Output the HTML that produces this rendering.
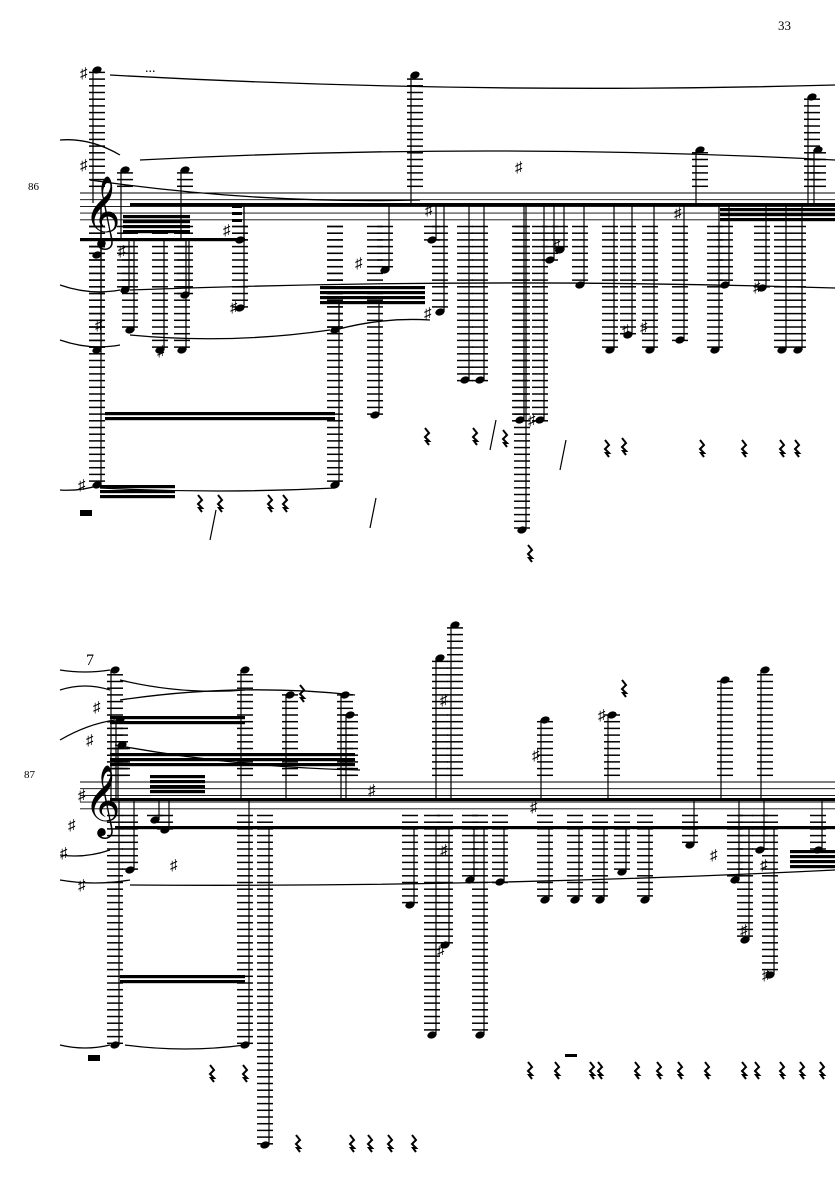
<!DOCTYPE html>
<html><head><meta charset="utf-8"><style>
html,body{margin:0;padding:0;background:#fff;}
svg{display:block}
text{font-family:"Liberation Serif",serif;}
</style></head><body>
<svg id="s" width="835" height="1181" viewBox="0 0 835 1181" xmlns="http://www.w3.org/2000/svg">
<text x="778" y="30" font-size="13">33</text>
<text x="28" y="190" font-size="11">86</text>
<text x="24" y="778" font-size="11">87</text>
<text x="84" y="232" font-size="62" style="font-family:'DejaVu Sans',serif">&#x1D11E;</text>
<text x="84" y="821" font-size="62" style="font-family:'DejaVu Sans',serif">&#x1D11E;</text>
<text x="86" y="665" font-size="16">7</text>
<text x="145" y="72" font-size="14">...</text>
</svg>
<script>
const s=document.getElementById('s');const NS='http://www.w3.org/2000/svg';
function el(t,a){const e=document.createElementNS(NS,t);for(const k in a)e.setAttribute(k,a[k]);s.appendChild(e);return e;}
function line(x1,y1,x2,y2,w){el('line',{x1,y1,x2,y2,stroke:'#000','stroke-width':w||1});}
const SP=6.7;
function staff(y0){for(let i=0;i<5;i++)line(80,y0+i*SP,835,y0+i*SP,0.9);}
const S1=193,S2=782;
staff(S1);staff(S2);
function lad(x,ny,st,stemTo){
 const top=st, bot=st+4*SP;
 if(ny<top){for(let y=top-SP;y>=ny-1;y-=SP)line(x-8,y,x+8,y,1.5);}
 if(ny>bot){for(let y=bot+SP;y<=ny+1;y+=SP)line(x-8,y,x+8,y,1.5);}
 el('ellipse',{cx:x,cy:ny,rx:4.8,ry:3.4,transform:`rotate(-20 ${x} ${ny})`});
 const sx=ny<top+2*SP? x-4 : x+4;
 line(sx,ny,sx,stemTo,1.2);
}
function beam(x1,x2,y,n){for(let i=0;i<(n||1);i++)el('rect',{x:x1,y:y+i*5,width:x2-x1,height:3.2});}
function slur(x1,y1,x2,y2,h){el('path',{d:`M${x1} ${y1} Q${(x1+x2)/2} ${(y1+y2)/2+h} ${x2} ${y2}`,fill:'none',stroke:'#000','stroke-width':1.3});}
function rest(x,y){el('path',{d:`M${x} ${y} l4 5 l-4 4 l4 4 l-3 0 l3 4`,fill:'none',stroke:'#000','stroke-width':2});}
function sharp(x,y){el('text',{x:x,y:y,'font-size':15}).textContent='♯';}

const c1=[[97,70,203],[97,255,203],[97,350,203],[97,485,203],[125,170,239],[125,290,239],[130,330,239],[185,170,239],[185,295,239],[182,350,239],[160,350,239],
[240,308,203],[240,240,203],[335,330,300],[335,485,300],[375,415,300],[385,270,203],[415,75,203],[432,240,203],[440,312,203],[465,380,203],[480,380,203],
[520,420,203],[522,530,203],[540,420,203],[550,260,203],[560,250,203],[580,285,203],[610,350,203],[628,335,203],[650,350,203],[680,340,203],[700,150,203],
[715,350,203],[725,285,203],[762,288,203],[782,350,203],[798,350,203],[812,97,203],[818,150,203]];
c1.forEach(c=>lad(c[0],c[1],S1,c[2]));
beam(130,835,203,1);beam(80,245,238,1);beam(123,190,215,4);
beam(320,425,286,4);beam(105,335,412,2);beam(100,175,485,3);
beam(720,835,203,4);
[[232,205],[232,212],[232,219]].forEach(p=>el('rect',{x:p[0],y:p[1],width:10,height:3}));
slur(110,75,835,85,15);slur(140,160,835,160,-18);slur(60,140,120,155,-10);
slur(90,180,420,200,14);slur(60,285,120,290,8);slur(130,290,835,288,-12);
slur(60,340,120,345,8);slur(130,335,330,330,12);slur(335,330,430,320,-8);
slur(60,490,100,485,4);slur(100,488,335,488,6);
sharp(80,78);sharp(80,170);sharp(118,256);sharp(95,330);sharp(223,235);sharp(230,312);sharp(355,268);sharp(424,318);sharp(425,215);sharp(515,172);
sharp(553,250);sharp(622,335);sharp(640,332);sharp(674,218);sharp(753,292);sharp(157,356);sharp(528,425);sharp(78,490);
[[425,428],[473,428],[503,430],[605,440],[622,438],[700,440],[742,440],[780,440],[795,440],[528,545],[198,495],[218,495],[268,495],[283,495]].forEach(p=>rest(p[0],p[1]));
[[370,498],[490,420],[560,440],[210,510]].forEach(p=>line(p[0],p[1]+30,p[0]+6,p[1],1.2));
el('rect',{x:80,y:510,width:12,height:6});

const c2=[[115,670,798],[115,1045,798],[120,720,798],[122,745,798],[130,870,798],[155,820,798],[165,830,798],[245,670,798],[245,1045,798],[265,1145,826],
[290,695,798],[345,695,798],[350,715,798],[440,658,798],[455,625,798],[432,1035,826],[480,1035,826],[445,945,826],[410,905,826],[470,880,826],
[500,882,826],[545,720,798],[545,900,826],[575,900,826],[600,900,826],[622,872,826],[645,900,826],[612,715,798],[690,845,798],[725,680,798],
[735,880,798],[745,940,826],[765,670,798],[770,975,826],[760,850,798],[818,850,798]];
c2.forEach(c=>lad(c[0],c[1],S2,c[2]));
beam(110,835,798,1);beam(115,835,826,1);beam(110,355,753,3);beam(110,245,716,2);beam(150,205,775,4);
beam(120,245,975,2);beam(790,835,850,4);
slur(60,670,110,670,4);slur(60,690,110,690,-8);slur(120,680,245,690,10);slur(120,700,355,695,-15);
slur(60,740,115,720,-6);slur(115,745,360,770,10);slur(60,855,110,850,6);slur(60,880,130,880,6);slur(130,885,835,870,10);
slur(60,1045,110,1045,6);slur(125,1045,245,1045,8);
sharp(93,712);sharp(86,745);sharp(78,800);sharp(68,830);sharp(60,858);sharp(78,890);sharp(170,870);sharp(368,795);sharp(440,855);sharp(532,760);
sharp(598,720);sharp(530,812);sharp(710,860);sharp(760,870);sharp(437,955);sharp(440,705);sharp(740,935);sharp(762,980);
[[300,685],[622,680],[210,1065],[243,1065],[296,1135],[350,1135],[368,1135],[388,1135],[412,1135],[528,1062],[555,1062],[590,1062],[598,1062],
[635,1062],[657,1062],[678,1062],[705,1062],[742,1062],[755,1062],[780,1062],[800,1062],[820,1062]].forEach(p=>rest(p[0],p[1]));
el('rect',{x:88,y:1055,width:12,height:6});el('rect',{x:565,y:1054,width:12,height:3});
</script>
</body></html>
